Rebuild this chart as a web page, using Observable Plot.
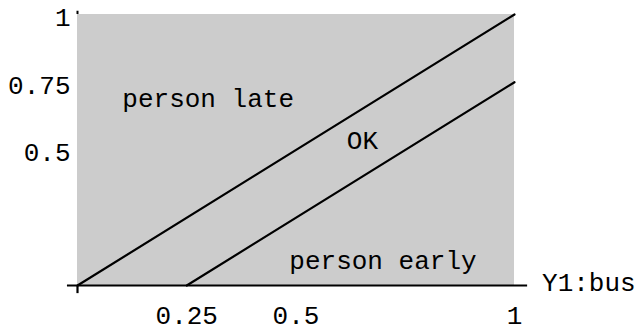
<!DOCTYPE html>
<html>
<head>
<meta charset="utf-8">
<script src="https://cdn.jsdelivr.net/npm/d3@7"></script>
<script src="https://cdn.jsdelivr.net/npm/@observablehq/plot@0.6"></script>
<style>
  html, body { margin: 0; padding: 0; background: #fff; }
</style>
</head>
<body>
<div id="chart"></div>
<script>
// Region (feasible area)
const regionX = [0, 1];
const regionY = [0, 1];
// Boundary lines: y = x  and  y = x - 0.25
const lateLineX = [0, 1];
const lateLineY = [0, 1];
const earlyLineX = [0.25, 1];
const earlyLineY = [0, 0.75];
// Tick labels
const xTicks = [0.25, 0.5, 1];
const yTicks = [0.5, 0.75, 1];
// Region labels (data coordinates)
const labelText = ["person late", "OK", "person early"];
const labelX = [0.299, 0.652, 0.699];
const labelY = [0.691, 0.536, 0.090];
const axisLabel = "Y1:bus";

const rect = [{x1: regionX[0], x2: regionX[1], y1: regionY[0], y2: regionY[1]}];
const late = lateLineX.map((x, i) => ({x, y: lateLineY[i]}));
const early = earlyLineX.map((x, i) => ({x, y: earlyLineY[i]}));
const labels = labelText.map((t, i) => ({t, x: labelX[i], y: labelY[i]}));

const font = "'Liberation Mono', 'DejaVu Sans Mono', monospace";
const fmt = d => String(d);

const chart = Plot.plot({
  width: 636,
  height: 331,
  marginLeft: 77,
  marginRight: 122,
  marginTop: 14,
  marginBottom: 46,
  x: {domain: [0, 1]},
  y: {domain: [0, 1]},
  style: {fontFamily: font, fontSize: "26px", background: "#fff", overflow: "visible"},
  marks: [
    Plot.rect(rect, {x1: "x1", x2: "x2", y1: "y1", y2: "y2", fill: "#cccccc"}),
    Plot.line(late, {x: "x", y: "y", stroke: "black", strokeWidth: 2.2}),
    Plot.line(early, {x: "x", y: "y", stroke: "black", strokeWidth: 2.2}),
    Plot.ruleY([0], {x1: -0.023, x2: 1.03, stroke: "black", strokeWidth: 2.2, clip: false}),
    Plot.ruleX([0], {y1: 0, y2: -0.03, stroke: "black", strokeWidth: 2.2, clip: false}),
    Plot.ruleX([0], {y1: 1, y2: 1.012, stroke: "black", strokeWidth: 2, clip: false}),
    Plot.axisX(xTicks, {tickSize: 0, tickPadding: 20, tickFormat: fmt, fontSize: 26, fontFamily: font, fill: "black", label: null}),
    Plot.axisY(yTicks, {tickSize: 0, tickPadding: 7, dy: 3, tickFormat: fmt, fontSize: 26, fontFamily: font, fill: "black", label: null}),
    Plot.text(labels, {x: "x", y: "y", text: "t", fontSize: 26, fontFamily: font, fill: "black"}),
    Plot.text([axisLabel], {x: 1.063, y: 0.012, text: d => d, textAnchor: "start", fontSize: 26, fontFamily: font, fill: "black", clip: false})
  ]
});
document.getElementById("chart").appendChild(chart);
</script>
</body>
</html>
